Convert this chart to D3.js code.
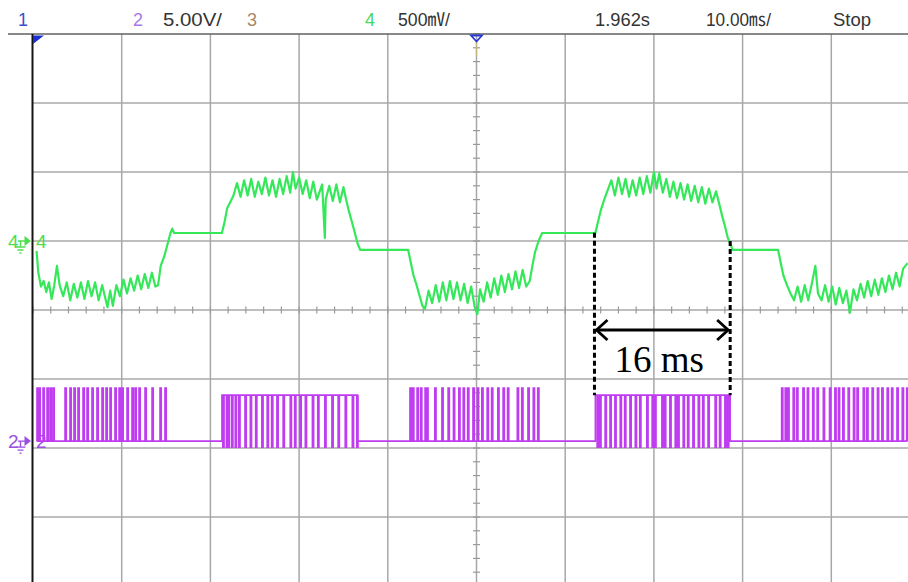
<!DOCTYPE html>
<html>
<head>
<meta charset="utf-8">
<script src="https://cdn.jsdelivr.net/npm/d3@7"></script>
<style>
  html,body{margin:0;padding:0;background:#fff;}
  svg{display:block;}
</style>
</head>
<body>
<svg id="chart" width="908" height="582"></svg>
<script>
// ---------------- DATA ----------------
// Time axis: 10.00 ms/div, 10 divisions (ms)
const timeDomain = [0, 100];
// Channel 4 (green), 500 mV/div: [time ms, mV]
const ch4Trace = [
  [0.4,-72],[0.6,-230],[0.9,-330],[1.2,-290],[1.5,-370],[1.8,-300],[2.1,-420],[2.4,-320],[2.7,-180],[3.0,-320],
  [3.4,-400],[3.8,-300],[4.2,-430],[4.6,-310],[5.0,-410],[5.4,-300],[5.8,-420],[6.2,-290],[6.6,-400],[7.0,-300],
  [7.4,-430],[7.8,-320],[8.1,-400],[8.4,-480],[8.7,-360],[9.0,-470],[9.4,-320],[9.8,-400],[10.2,-280],[10.6,-380],
  [11.0,-270],[11.4,-360],[11.8,-250],[12.2,-350],[12.6,-240],[13.0,-340],[13.4,-230],[13.8,-330],[14.1,-320],
  [14.4,-180],[14.8,-110],[15.1,-40],[15.5,58],[15.7,90],[15.9,58],
  [21.3,58],
  [21.6,140],[21.9,240],[22.3,290],[22.6,330],
  [23.0,420],[23.4,320],[23.8,440],[24.2,330],[24.6,450],[25.0,320],[25.4,430],[25.8,340],[26.2,460],[26.6,330],
  [27.0,440],[27.4,320],[27.8,450],[28.2,340],[28.6,470],[29.0,350],[29.3,500],[29.6,380],[30.0,460],[30.4,340],
  [30.8,440],[31.2,310],[31.6,430],[32.0,300],[32.6,410],[32.9,22],[33.0,300],[33.4,400],[33.8,290],[34.2,410],
  [34.6,280],[35.0,390],
  [35.3,300],[35.6,220],[35.9,150],[36.2,80],[36.6,-20],[36.9,-65],
  [42.3,-65],
  [42.6,-160],[42.9,-250],[43.2,-310],[43.6,-400],[43.9,-470],[44.2,-490],
  [44.6,-360],[45.0,-450],[45.4,-320],[45.8,-440],[46.2,-300],[46.6,-430],[47.0,-290],[47.4,-420],[47.8,-300],
  [48.2,-430],[48.6,-310],[49.0,-450],[49.4,-330],[49.8,-480],[50.1,-530],[50.4,-350],[50.8,-440],[51.2,-300],
  [51.6,-410],[52.0,-270],[52.4,-390],[52.8,-250],[53.2,-370],[53.6,-240],[54.0,-350],[54.4,-220],[54.8,-340],
  [55.2,-210],[55.6,-330],[56.0,-290],
  [56.3,-180],[56.6,-80],[57.0,0],[57.4,58],
  [63.4,58],
  [63.7,140],[64.0,220],[64.4,300],[64.8,370],
  [65.2,440],[65.6,330],[66.0,460],[66.4,340],[66.8,450],[67.2,320],[67.6,440],[68.0,330],[68.4,460],[68.8,340],
  [69.2,470],[69.6,350],[70.0,500],[70.3,380],[70.6,490],[71.0,350],[71.4,450],[71.8,320],[72.2,430],[72.6,310],
  [73.0,420],[73.4,300],[73.8,410],[74.2,290],[74.6,400],[75.0,280],[75.4,390],[75.8,270],[76.2,380],[76.6,280],
  [77.0,360],
  [77.4,260],[77.7,180],[78.0,110],[78.3,30],[78.6,-20],[78.9,-65],
  [84.0,-65],
  [84.3,-160],[84.6,-250],[85.0,-320],[85.4,-380],[85.8,-430],
  [86.2,-330],[86.6,-440],[87.0,-320],[87.4,-430],[87.8,-310],[88.2,-180],[88.5,-380],[88.9,-430],[89.3,-320],
  [89.7,-440],[90.1,-330],[90.5,-460],[90.9,-340],[91.3,-450],[91.7,-360],[92.1,-520],[92.5,-350],[92.9,-430],
  [93.3,-310],[93.7,-410],[94.1,-290],[94.5,-400],[94.9,-280],[95.3,-390],[95.7,-270],[96.1,-370],[96.5,-250],
  [96.9,-350],[97.3,-230],[97.7,-330],[98.1,-200],[98.6,-160]
];
// Channel 2 (purple), 5.00 V/div
const ch2Start = 0.4, ch2End = 98.6;          // ms
const ch2HighSegments = [[21.3, 36.6], [63.4, 78.6]]; // ms
const ch2Levels = { low: 0, high: 3.33, pulseTop: 3.85, pulseBottom: -0.45 }; // V
const ch2UpPulses = [
  0.45,0.68,1.13,1.58,1.92,2.25,3.61,4.17,4.62,5.07,5.64,6.09,6.65,7.21,7.78,8.23,8.68,9.24,9.70,10.03,
  10.60,11.16,11.50,11.95,12.63,13.42,14.32,14.88,
  42.5,42.8,43.3,43.7,44.2,44.4,45.3,46.1,46.8,47.4,48.0,48.5,49.0,49.6,50.1,50.6,51.2,51.7,52.4,53.0,
  53.5,54.6,55.1,55.8,56.4,56.9,
  84.4,84.8,85.1,85.7,86.1,86.8,87.3,87.9,88.4,89.1,89.8,90.4,90.8,91.3,91.9,92.5,92.9,93.6,94.0,94.6,
  95.2,95.7,96.3,96.8,97.4,98.0,98.5
];
const ch2DownPulses = [
  21.4,21.8,22.0,22.4,22.8,23.2,23.9,24.5,25.1,25.8,26.4,26.9,27.5,28.2,29.0,29.5,30.1,30.7,31.5,32.1,
  32.9,33.7,34.4,35.2,36.0,36.5,
  63.6,63.9,64.5,65.05,65.6,66.2,66.7,67.3,67.9,68.4,69.2,69.8,70.1,70.9,71.2,71.8,72.4,72.7,73.3,73.8,
  74.4,75.0,75.5,76.1,76.9,77.4,78.0,78.3
];
// Measurement annotation
const annotationTimes = [63.3, 78.6];   // ms
const annotationLabel = "16 ms";
// Header readout
const headerItems = [
  {text:"1", color:"#3a4fc8", x:18},
  {text:"2", color:"#a878e8", x:133},
  {text:"5.00V/", color:"#333", x:163, len:59},
  {text:"3", color:"#a88868", x:247},
  {text:"4", color:"#48d858", x:365},
  {text:"500\u33B7/", color:"#333", x:398, len:52},
  {text:"1.962s", color:"#333", x:595, len:55},
  {text:"10.00\u33B3/", color:"#333", x:706, len:65},
  {text:"Stop", color:"#333", x:833, len:38}
];

// ---------------- LAYOUT ----------------
const svg = d3.select("#chart");
const plotLeft = 33, plotTop = 34, divX = 88.7, divY = 69;
const nDivX = 10, nDivY = 8;
const x = d3.scaleLinear().domain(timeDomain).range([plotLeft, plotLeft + nDivX*divX]);
// ch4: zero at 3 div below top, 500 mV/div
const y4 = d3.scaleLinear().domain([-2500, 1500]).range([plotTop + nDivY*divY, plotTop]);
// ch2: zero at 5.9 div below top, 5 V/div
const y2 = d3.scaleLinear().domain([-10.5, 29.5]).range([plotTop + nDivY*divY, plotTop]);
const gridY = d3.scaleLinear().domain([0, nDivY]).range([plotTop, plotTop + nDivY*divY]);
const gridX = d3.scaleLinear().domain([0, nDivX]).range([plotLeft, plotLeft + nDivX*divX]);

svg.append("rect").attr("width",908).attr("height",582).attr("fill","#fff");

// grid
const grid = svg.append("g").attr("stroke","#a8a8a8").attr("stroke-width",1.5);
d3.range(1, nDivX).forEach(i => {
  grid.append("line").attr("x1",gridX(i)).attr("x2",gridX(i)).attr("y1",plotTop).attr("y2",582);
});
d3.range(1, nDivY).forEach(j => {
  grid.append("line").attr("x1",plotLeft).attr("x2",908).attr("y1",gridY(j)).attr("y2",gridY(j));
});
// minor ticks on center axes
const ticks = svg.append("g").attr("stroke","#9a9a9a").attr("stroke-width",1.2);
d3.range(0, nDivX*5+1).forEach(k => {
  const xx = gridX(k/5);
  if (xx > 908) return;
  ticks.append("line").attr("x1",xx).attr("x2",xx).attr("y1",gridY(4)-3.5).attr("y2",gridY(4)+3.5);
});
d3.range(0, nDivY*5+1).forEach(k => {
  const yy = gridY(k/5);
  ticks.append("line").attr("x1",gridX(5)-3.5).attr("x2",gridX(5)+3.5).attr("y1",yy).attr("y2",yy);
});

// top header line and left border
svg.append("line").attr("x1",8).attr("x2",908).attr("y1",plotTop).attr("y2",plotTop)
  .attr("stroke","#606060").attr("stroke-width",1.6);
svg.append("line").attr("x1",plotLeft-0.5).attr("x2",plotLeft-0.5).attr("y1",plotTop).attr("y2",582)
  .attr("stroke","#151515").attr("stroke-width",2);

// header texts
const hfont = "'Liberation Sans', Arial, 'Noto Sans CJK JP', sans-serif";
headerItems.forEach(h => {
  const t = svg.append("text").attr("x",h.x).attr("y",26).attr("fill",h.color)
    .attr("font-family",hfont).attr("font-size",18).text(h.text);
  if (h.len) t.attr("textLength",h.len).attr("lengthAdjust","spacingAndGlyphs");
});

// trigger markers
svg.append("path").attr("d",`M${plotLeft},${plotTop+1.5}L${plotLeft+11},${plotTop+1.5}L${plotLeft},${plotTop+10}Z`).attr("fill","#1d2fd0");
const cx = gridX(5);
svg.append("line").attr("x1",cx).attr("x2",cx).attr("y1",plotTop+6).attr("y2",plotTop+22)
  .attr("stroke","#c8b478").attr("stroke-width",1.2);
svg.append("path").attr("d",`M${cx-5.5},${plotTop+1.5}L${cx+5.5},${plotTop+1.5}L${cx},${plotTop+7.5}Z`)
  .attr("fill","none").attr("stroke","#2c3ad8").attr("stroke-width",1.8);

// channel ground markers
function chMarker(yy, label, color) {
  const g = svg.append("g");
  g.append("text").attr("x",8).attr("y",yy+7).attr("fill",color).attr("font-family",hfont)
    .attr("font-size",19).text(label);
  g.append("path").attr("d",
    `M18,${yy}H25M20.5,${yy}V${yy+6}M15.5,${yy+6}H25.5M17.5,${yy+9}H23.5M19.5,${yy+12}H21.5`)
    .attr("stroke",color).attr("stroke-width",1.4).attr("fill","none");
  g.append("path").attr("d",`M24.5,${yy-5}L31,${yy}L24.5,${yy+5}Z`).attr("fill",color);
  g.append("text").attr("x",36).attr("y",yy+7).attr("fill",color).attr("font-family",hfont)
    .attr("font-size",19).text(label);
}
chMarker(y4(0), "4", "#50dc50");
chMarker(y2(0), "2", "#9a50e0");

// ---------------- TRACES ----------------
// channel 2
const p2 = d3.path();
const pw = 0.14; // pulse width ms
p2.moveTo(x(ch2Start), y2(ch2Levels.low));
ch2HighSegments.forEach(([a,b]) => {
  p2.lineTo(x(a), y2(ch2Levels.low));
  p2.lineTo(x(a), y2(ch2Levels.high));
  p2.lineTo(x(b), y2(ch2Levels.high));
  p2.lineTo(x(b), y2(ch2Levels.low));
});
p2.lineTo(x(ch2End), y2(ch2Levels.low));
ch2UpPulses.forEach(t => {
  p2.moveTo(x(t), y2(ch2Levels.low));
  p2.lineTo(x(t), y2(ch2Levels.pulseTop));
  p2.lineTo(x(t+pw), y2(ch2Levels.pulseTop));
  p2.lineTo(x(t+pw), y2(ch2Levels.low));
});
ch2DownPulses.forEach(t => {
  p2.moveTo(x(t), y2(ch2Levels.high));
  p2.lineTo(x(t), y2(ch2Levels.pulseBottom));
  p2.lineTo(x(t+pw), y2(ch2Levels.pulseBottom));
  p2.lineTo(x(t+pw), y2(ch2Levels.high));
});
svg.append("path").attr("d",p2.toString()).attr("fill","none")
  .attr("stroke","#bf3cf0").attr("stroke-width",1.6);

// channel 4
const line4 = d3.line().x(d => x(d[0])).y(d => y4(d[1]));
svg.append("path").datum(ch4Trace).attr("d",line4).attr("fill","none")
  .attr("stroke","#35e85a").attr("stroke-width",2.2).attr("stroke-linejoin","round");

// ---------------- ANNOTATION ----------------
const ann = svg.append("g");
annotationTimes.forEach((t,i) => {
  ann.append("line").attr("x1",x(t)).attr("x2",x(t))
    .attr("y1", i===0 ? y4(60) : y4(0)).attr("y2", y2(ch2Levels.high))
    .attr("stroke","#000").attr("stroke-width",3).attr("stroke-dasharray","5,3");
});
const ay = 330, xa = x(annotationTimes[0]) + 2, xb = x(annotationTimes[1]) - 2;
ann.append("line").attr("x1",xa).attr("x2",xb).attr("y1",ay).attr("y2",ay)
  .attr("stroke","#000").attr("stroke-width",2.8);
ann.append("path").attr("d",`M${xa+11},${ay-10}L${xa},${ay}L${xa+11},${ay+10}M${xb-11},${ay-10}L${xb},${ay}L${xb-11},${ay+10}`)
  .attr("fill","none").attr("stroke","#000").attr("stroke-width",2.8);
ann.append("text").attr("x",(xa+xb)/2 - 3).attr("y",372).attr("text-anchor","middle")
  .attr("font-family","'Liberation Serif','Times New Roman',serif").attr("font-size",37)
  .attr("fill","#000").text(annotationLabel);
</script>
</body>
</html>
